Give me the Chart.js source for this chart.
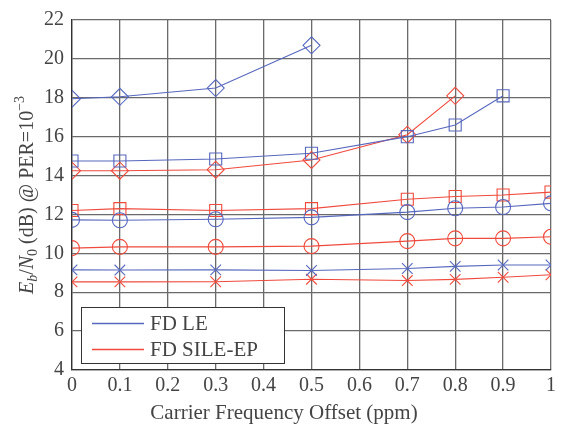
<!DOCTYPE html>
<html>
<head>
<meta charset="utf-8">
<script src="https://cdn.jsdelivr.net/npm/chart.js@4/dist/chart.umd.min.js"></script>
<style>
  html, body { margin: 0; padding: 0; background: #fff; }
  #wrap { width: 566px; height: 427px; }
</style>
</head>
<body>
<div id="wrap"><canvas id="chart" width="566" height="427"></canvas></div>
<script>
// CFO sweep: Eb/N0 needed for PER = 1e-3, two receivers, four configs each
const cfo = [0, 0.1, 0.3, 0.5, 0.7, 0.8, 0.9, 1];
const xTicks = [0, 0.1, 0.2, 0.3, 0.4, 0.5, 0.6, 0.7, 0.8, 0.9, 1];
const yTicks = [4, 6, 8, 10, 12, 14, 16, 18, 20, 22];

// FD LE (blue)
const leDiamond = [17.95, 18.05, 18.5, 20.7, null, null, null, null];
const leSquare  = [14.75, 14.75, 14.85, 15.15, 16.0, 16.6, 18.1, null];
const leCircle  = [11.72, 11.7, 11.75, 11.85, 12.12, 12.32, 12.38, 12.57];
const leCross   = [9.15, 9.14, 9.15, 9.12, 9.22, 9.33, 9.4, 9.4];

// FD SILE-EP (red)
const epDiamond = [14.25, 14.25, 14.3, 14.8, 16.1, 18.1, null, null];
const epSquare  = [12.2, 12.3, 12.2, 12.3, 12.78, 12.92, 13.0, 13.15];
const epCircle  = [10.27, 10.33, 10.33, 10.37, 10.63, 10.77, 10.77, 10.85];
const epCross   = [8.53, 8.53, 8.54, 8.67, 8.6, 8.66, 8.77, 8.9];

const legendNames = ['FD LE', 'FD SILE-EP'];
const legendColors = ['#5667bd', '#ef4a3c'];
const blue = legendColors[0];
const red = legendColors[1];
const serif = '"Liberation Serif", "DejaVu Serif", serif';

function series(values, color, style, r) {
  return {
    data: cfo.map((x, i) => ({ x: x, y: values[i] })),
    borderColor: color,
    backgroundColor: 'rgba(0,0,0,0)',
    pointBorderColor: color,
    pointBackgroundColor: 'rgba(0,0,0,0)',
    pointStyle: style,
    pointRadius: r,
    pointBorderWidth: 1.1,
    borderWidth: 1.1,
    spanGaps: false,
    fill: false,
    tension: 0
  };
}

const datasets = [
  series(leDiamond, blue, 'rectRot', 8.5),
  series(leSquare, blue, 'rect', 8.5),
  series(leCircle, blue, 'circle', 7.5),
  series(leCross, blue, 'crossRot', 7.5),
  series(epDiamond, red, 'rectRot', 8.5),
  series(epSquare, red, 'rect', 8.5),
  series(epCircle, red, 'circle', 7.5),
  series(epCross, red, 'crossRot', 7.5)
];

// legend box sitting inside the plot, bottom left
const boxLegend = {
  id: 'boxLegend',
  afterDraw(chart) {
    const ctx = chart.ctx;
    const x0 = 81, y0 = 307, w = 203, h = 56;
    ctx.save();
    ctx.fillStyle = '#fff';
    ctx.fillRect(x0, y0, w, h);
    ctx.strokeStyle = '#333';
    ctx.lineWidth = 1;
    ctx.strokeRect(x0 + 0.5, y0 + 0.5, w, h);
    ctx.font = '21px ' + serif;
    ctx.textBaseline = 'middle';
    for (let i = 0; i < legendNames.length; i++) {
      const y = y0 + 16 + i * 26;
      ctx.beginPath();
      ctx.strokeStyle = legendColors[i];
      ctx.lineWidth = 1.5;
      ctx.moveTo(92, y + 0.5);
      ctx.lineTo(144, y + 0.5);
      ctx.stroke();
      ctx.fillStyle = '#444';
      ctx.fillText(legendNames[i], 150, y + 1);
    }
    ctx.restore();
  }
};

// axis titles: y is rotated with sub/superscripts, x centred on the figure
const axisTitles = {
  id: 'axisTitles',
  afterDraw(chart) {
    const ctx = chart.ctx;
    const area = chart.chartArea;
    ctx.save();
    ctx.fillStyle = '#444';
    ctx.font = '21px ' + serif;
    ctx.textAlign = 'center';
    ctx.textBaseline = 'alphabetic';
    ctx.fillText('Carrier Frequency Offset (ppm)', 284, 419);
    ctx.restore();

    const parts = [
      { t: 'E', italic: true },
      { t: 'b', italic: true, sub: true },
      { t: '/', italic: false },
      { t: 'N', italic: true },
      { t: '0', sub: true },
      { t: ' (dB) @ PER=10' },
      { t: '\u22123', sup: true }
    ];
    const big = 20, small = 14;
    const fontOf = p => (p.italic ? 'italic ' : '') + (p.sub || p.sup ? small : big) + 'px ' + serif;
    let total = 0;
    parts.forEach(p => { ctx.font = fontOf(p); p.w = ctx.measureText(p.t).width; total += p.w; });
    ctx.save();
    ctx.translate(26, (area.top + area.bottom) / 2);
    ctx.rotate(-Math.PI / 2);
    ctx.fillStyle = '#444';
    ctx.textAlign = 'left';
    ctx.textBaseline = 'alphabetic';
    let x = -total / 2;
    parts.forEach(p => {
      ctx.font = fontOf(p);
      const dy = p.sub ? 4 : (p.sup ? -9 : 0);
      ctx.fillText(p.t, x, 7 + dy);
      x += p.w;
    });
    ctx.restore();
  }
};

new Chart(document.getElementById('chart'), {
  type: 'line',
  data: { datasets: datasets },
  plugins: [boxLegend, axisTitles],
  options: {
    responsive: false,
    animation: false,
    layout: { padding: { left: 0, right: 15, top: 13, bottom: 0 } },
    plugins: {
      legend: { display: false },
      tooltip: { enabled: false }
    },
    scales: {
      x: {
        type: 'linear',
        min: 0,
        max: 1,
        afterBuildTicks: s => { s.ticks = xTicks.map(v => ({ value: v })); },
        afterFit: s => { s.height = 57; },
        ticks: {
          color: '#444',
          font: { family: serif, size: 20 },
          padding: 4,
          maxRotation: 0,
          autoSkip: false,
          callback: v => String(v)
        },
        grid: { color: '#6a6a6a', lineWidth: 1.3, drawTicks: false },
        border: { color: '#333', width: 1.3 }
      },
      y: {
        min: 4,
        max: 22,
        afterBuildTicks: s => { s.ticks = yTicks.map(v => ({ value: v })); },
        afterFit: s => { s.width = 72; },
        ticks: {
          color: '#444',
          font: { family: serif, size: 20 },
          padding: 8,
          autoSkip: false
        },
        grid: { color: '#6a6a6a', lineWidth: 1.3, drawTicks: false },
        border: { color: '#333', width: 1.3 }
      }
    }
  }
});
</script>
</body>
</html>
